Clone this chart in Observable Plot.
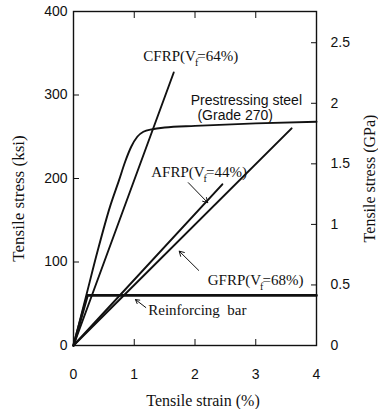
<!DOCTYPE html>
<html><head><meta charset="utf-8">
<script src="https://cdn.jsdelivr.net/npm/d3@7"></script>
<script src="https://cdn.jsdelivr.net/npm/@observablehq/plot@0.6"></script>
<style>
body{margin:0;background:#fff;}
</style></head><body><div id="chart"></div>
<script>
// Series: [strain %, stress ksi]
const cfrp = [[0,0],[1.65,327]];
const afrp = [[0,0],[2.45,193]];
const gfrp = [[0,0],[3.59,260]];
const steel = [[0,0],[0.2,57],[0.4,114],[0.6,166],[0.75,198],[0.85,220],[0.95,238],[1.05,250],[1.15,256],[1.3,259],[1.5,261],[2,263],[3,266],[4,268]];
const rebar = [[0,0],[0.23,60],[4,60]];

const xTicks = [0,1,2,3,4];
const yTicks = [0,100,200,300,400];
const gpaTicks = [0,0.5,1,1.5,2,2.5];
const KSI_PER_GPA = 145.038;

const xTitle = "Tensile strain (%)";
const yTitleLeft = "Tensile stress (ksi)";
const yTitleRight = "Tensile stress (GPa)";

const serifLabels = [
  {strain:1.15, stress:347, text:"CFRP(V_f=64%)"},
  {strain:1.28, stress:208, text:"AFRP(V_f=44%)"},
  {strain:2.21, stress:78, text:"GFRP(V_f=68%)"},
  {strain:1.23, stress:42, text:"Reinforcing  bar"}
];
const sansLabels = [
  {strain:1.93, stress:293, text:"Prestressing steel"},
  {strain:2.04, stress:275, text:"(Grade 270)"}
];
const arrows = [
  {x1:1.89, y1:195, x2:2.21, y2:171},
  {x1:2.06, y1:90, x2:1.74, y2:113},
  {x1:1.19, y1:45.5, x2:1.02, y2:55}
];

const rows = (pts) => pts.map(([strain, stress]) => ({strain, stress}));
const SERIF = "'Liberation Serif','Times New Roman',serif";

const chart = Plot.plot({
  width: 378, height: 409,
  marginLeft: 73, marginRight: 62, marginTop: 11, marginBottom: 64,
  x: {domain: [0, 4]},
  y: {domain: [0, 400]},
  style: {fontFamily: "'Liberation Sans', Arial, sans-serif", fontSize: "14px", color: "#111", background: "#fff"},
  marks: [
    Plot.frame({stroke: "#111", strokeWidth: 1.4}),
    Plot.axisX(xTicks, {anchor: "bottom", tickSize: -6, tickPadding: 30, label: null}),
    Plot.axisX(xTicks, {anchor: "top", tickSize: -6, tickFormat: () => "", label: null}),
    Plot.axisY(yTicks, {anchor: "left", tickSize: -6, tickPadding: 12, label: null}),
    Plot.axisY(gpaTicks.map(g => g * KSI_PER_GPA), {anchor: "right", tickSize: -6, tickPadding: 20,
      tickFormat: d => String(Math.round(d / KSI_PER_GPA * 10) / 10), label: null}),
    Plot.text([xTitle], {frameAnchor: "bottom", dy: 55, dx: 8, textAnchor: "middle", lineAnchor: "middle", fontFamily: SERIF, fontSize: 16, fill: "#111"}),
    Plot.text([yTitleLeft], {frameAnchor: "left", dx: -55, dy: 20, rotate: -90, textAnchor: "middle", lineAnchor: "middle", fontFamily: SERIF, fontSize: 17, fill: "#111"}),
    Plot.text([yTitleRight], {frameAnchor: "right", dx: 53, dy: 0, rotate: -90, textAnchor: "middle", lineAnchor: "middle", fontFamily: SERIF, fontSize: 16, fill: "#111"}),
    Plot.line(rows(steel), {x: "strain", y: "stress", curve: "monotone-x", stroke: "#111", strokeWidth: 1.9}),
    Plot.line(rows(cfrp), {x: "strain", y: "stress", stroke: "#111", strokeWidth: 1.9}),
    Plot.line(rows(afrp), {x: "strain", y: "stress", stroke: "#111", strokeWidth: 2}),
    Plot.line(rows(gfrp), {x: "strain", y: "stress", stroke: "#111", strokeWidth: 2}),
    Plot.line(rows(rebar), {x: "strain", y: "stress", stroke: "#111", strokeWidth: 2.6}),
    Plot.arrow(arrows, {x1: "x1", y1: "y1", x2: "x2", y2: "y2", stroke: "#111", strokeWidth: 1, headLength: 8}),
    Plot.text(serifLabels, {x: "strain", y: "stress", text: "text", textAnchor: "start", fontFamily: SERIF, fontSize: 15, fill: "#111"}),
    Plot.text(sansLabels, {x: "strain", y: "stress", text: "text", textAnchor: "start", fontSize: 14, fill: "#111"})
  ]
});
document.getElementById("chart").appendChild(chart);

// subscript "f" in V_f
d3.select(chart).selectAll("text").each(function() {
  const t = this.textContent;
  if (t.includes("_f") && this.children.length === 0) {
    const [a, b] = t.split("_f");
    const sel = d3.select(this);
    sel.text(null);
    sel.append("tspan").text(a);
    sel.append("tspan").attr("dy", 5).attr("dx", -1).attr("font-size", 10).text("f");
    sel.append("tspan").attr("dy", -5).attr("dx", -1).text(b);
  }
});
</script></body></html>
